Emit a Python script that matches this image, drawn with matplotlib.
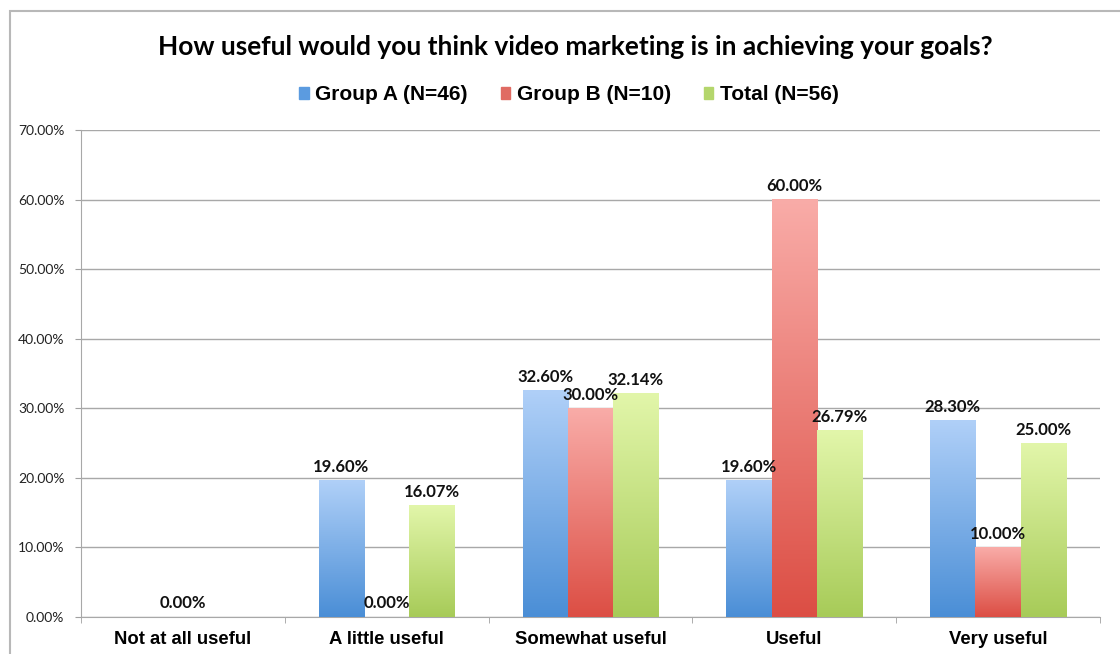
import matplotlib.pyplot as plt
import numpy as np
from matplotlib.colors import LinearSegmentedColormap
from matplotlib.patches import Rectangle
from matplotlib.ticker import FuncFormatter

categories = ["Not at all useful", "A little useful", "Somewhat useful", "Useful", "Very useful"]
series_names = ["Group A (N=46)", "Group B (N=10)", "Total (N=56)"]
group_a = [0.00, 19.60, 32.60, 19.60, 28.30]
group_b = [0.00, 0.00, 30.00, 60.00, 10.00]
total = [0.00, 16.07, 32.14, 26.79, 25.00]
yticks = [0, 10, 20, 30, 40, 50, 60, 70]

# (top colour, bottom colour) for each series gradient
shades = [("#b0d0f8", "#4a8ed6"), ("#f9aca8", "#dc4e44"), ("#e2f6aa", "#a7cb58")]
legend_colors = ["#5b9be0", "#e06b63", "#b4d66c"]

fig = plt.figure(figsize=(11.2, 6.54), dpi=100)
ax = fig.add_axes([0.0723, 0.0566, 0.9097, 0.7444])

# outer chart border
fig.patches.append(Rectangle((10 / 1120, -0.05), 1.1, 1 - 11 / 654 + 0.05,
                             transform=fig.transFigure, fill=False,
                             edgecolor="#b8b8b8", linewidth=1.5))

x = np.arange(len(categories))
width = 0.222
values = [group_a, group_b, total]

for i, (vals, (top, bottom)) in enumerate(zip(values, shades)):
    cmap = LinearSegmentedColormap.from_list("g%d" % i, [bottom, top])
    bars = ax.bar(x + (i - 1) * width, vals, width, color="none", edgecolor="none", zorder=3)
    for bar, v in zip(bars, vals):
        if v > 0:
            x0, w, h = bar.get_x(), bar.get_width(), bar.get_height()
            grad = np.linspace(0, 1, 256).reshape(-1, 1)
            ax.imshow(grad, cmap=cmap, origin="lower", aspect="auto",
                      extent=(x0, x0 + w, 0, h), zorder=3, interpolation="bicubic")
        # zero labels only shown for the middle series
        if v > 0 or i == 1:
            ax.annotate("%.2f%%" % v, (bar.get_x() + bar.get_width() / 2, v),
                        xytext=(0, 4), textcoords="offset points",
                        ha="center", va="bottom", fontsize=12,
                        fontweight="bold", family="Lato", color="#111111", zorder=5)

ax.set_xlim(-0.5, len(categories) - 0.5)
ax.set_ylim(0, 70)
ax.set_yticks(yticks)
ax.yaxis.set_major_formatter(FuncFormatter(lambda v, p: "%.2f%%" % v))
ax.set_xticks(x)
ax.set_xticklabels(categories, fontsize=13.3, fontweight="bold", family="Liberation Sans")
ax.set_xticks(np.arange(-0.5, len(categories)), minor=True)
ax.tick_params(axis="x", which="major", length=0, pad=10)
ax.tick_params(axis="x", which="minor", length=4, color="#a0a0a0", direction="out")
ax.tick_params(axis="y", length=4, color="#a0a0a0", labelsize=10, pad=8)
for lab in ax.get_yticklabels():
    lab.set_family("Lato")
    lab.set_color("#222222")

ax.grid(axis="y", color="#a8a8a8", linewidth=1, zorder=0)
ax.set_axisbelow(True)
for s in ["top", "right"]:
    ax.spines[s].set_visible(False)
ax.spines["left"].set_color("#a8a8a8")
ax.spines["bottom"].set_color("#a8a8a8")

fig.text(0.514, 1 - 47 / 654, "How useful would you think video marketing is in achieving your goals?",
         ha="center", va="center", fontsize=19, fontweight="bold", family="Lato")

handles = [Rectangle((0, 0), 1, 1, color=c) for c in legend_colors]
fig.legend(handles, series_names, loc="center", bbox_to_anchor=(0.508, 1 - 95 / 654),
           ncol=3, frameon=False, handlelength=0.45, handleheight=0.45, handletextpad=0.3,
           columnspacing=1.6, prop={"family": "Liberation Sans", "weight": "bold", "size": 15})

fig.savefig("out.png", dpi=100)
